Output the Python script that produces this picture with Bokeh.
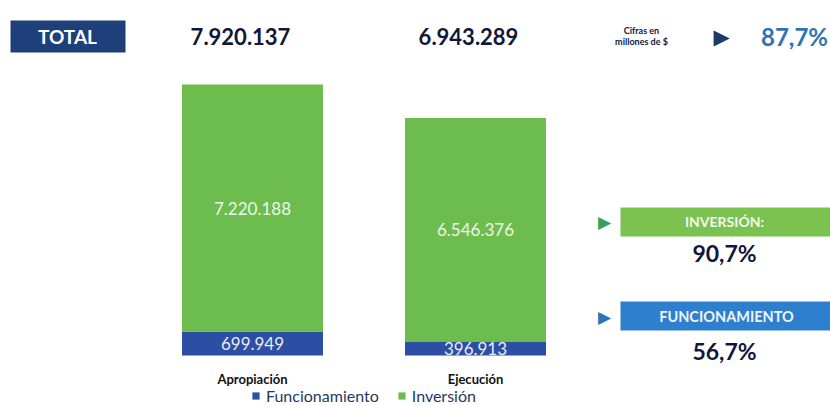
from bokeh.plotting import figure
from bokeh.models import ColumnDataSource, Range1d, Label, BoxAnnotation, Legend, LegendItem
from bokeh.core.properties import value
from bokeh.embed import file_html
from bokeh.resources import INLINE

categories = ["Apropiación", "Ejecución"]
funcionamiento = [699949, 396913]
inversion = [7220188, 6546376]
series = ["Funcionamiento", "Inversión"]

GREEN = "#6cbd4e"
BLUE = "#2d4fa3"
FONT = "Lato"

def fmt(v):
    return f"{v:,}".replace(",", ".")

def pct(a, b):
    return f"{a / b * 100:.1f}".replace(".", ",") + "%"

totals = [f + i for f, i in zip(funcionamiento, inversion)]
xs = list(range(len(categories)))

src = ColumnDataSource(dict(x=xs, cat=categories, Funcionamiento=funcionamiento, Inversión=inversion,
                            f_mid=[f / 2 for f in funcionamiento],
                            i_mid=[f + i / 2 for f, i in zip(funcionamiento, inversion)],
                            f_lab=[fmt(v) for v in funcionamiento],
                            i_lab=[fmt(v) for v in inversion]))

W, H = 830, 406
BASE = 51          # baseline height above bottom, px
X0, STEP = 252, 223
px_per_unit = 271 / totals[0]
p = figure(width=W, height=H, output_backend="svg", toolbar_location=None,
           x_range=Range1d(-X0 / STEP, (W - X0) / STEP),
           y_range=Range1d(-BASE / px_per_unit, (H - BASE) / px_per_unit),
           min_border=0, outline_line_color=None)
p.axis.visible = False
p.grid.visible = False

rs = p.vbar_stack(series, x="x", width=141 / STEP, color=[BLUE, GREEN], source=src, line_color=None)

p.text(x="x", y="i_mid", text="i_lab", source=src, text_align="center", text_baseline="middle",
       text_color="#eef5ea", text_font_size="17px", text_font=value(FONT))
p.text(x="x", y="f_mid", text="f_lab", source=src, text_align="center", text_baseline="middle",
       text_color="#e8ecf6", text_font_size="17px", text_font=value(FONT))
p.text(x="x", y=-23 / px_per_unit, text="cat", source=src, text_align="center", text_baseline="middle",
       text_color="#111111", text_font_size="13px", text_font_style="bold", text_font=value(FONT))

def sy(ref_y):
    return H - ref_y

def lab(text, x, y, size, color, bold=True, font=FONT):
    p.add_layout(Label(x=x, y=sy(y), x_units="screen", y_units="screen", text=text,
                       text_align="center", text_baseline="middle", text_font_size=size,
                       text_color=color, text_font_style="bold" if bold else "normal", text_font=font))

def box(l, r, t, b, color):
    p.add_layout(BoxAnnotation(left=l, right=r, bottom=sy(b), top=sy(t),
                               left_units="screen", right_units="screen", bottom_units="screen", top_units="screen",
                               fill_color=color, fill_alpha=1, line_color=None))

# header
box(10, 125, 20, 52, "#1f3f7a")
lab("TOTAL", 67, 36, "19px", "white")
lab(fmt(totals[0]), 240, 36, "22px", "#12163a")
lab(fmt(totals[1]), 468, 36, "22px", "#12163a")
lab("Cifras en", 641, 30, "9px", "#12163a")
lab("millones de $", 641, 41, "9px", "#12163a")
lab("▶", 721, 36, "21px", "#1f3864", bold=False, font="DejaVu Sans")
lab(pct(totals[1], totals[0]), 794, 36, "24px", "#2e74b5")

# right panels
box(620, 830, 207, 236, "#7cc250")
lab("▶", 604, 221, "17px", "#33a25a", bold=False, font="DejaVu Sans")
lab("INVERSIÓN:", 724, 221, "14px", "#f2f7ec")
lab(pct(inversion[1], inversion[0]), 724, 252, "23px", "#12163a")

box(620, 830, 301, 330, "#2f7fcf")
lab("▶", 604, 316, "17px", "#2e75b6", bold=False, font="DejaVu Sans")
lab("FUNCIONAMIENTO", 726, 316, "14.5px", "#eef4fb")
lab(pct(funcionamiento[1], funcionamiento[0]), 724, 350, "23px", "#12163a")

legend = Legend(items=[LegendItem(label=s, renderers=[r]) for s, r in zip(series, rs)],
                orientation="horizontal", location=(251, 1), border_line_color=None,
                background_fill_alpha=0, label_text_font_size="16px", label_text_font=FONT,
                label_text_color="#1f3864", glyph_width=9, glyph_height=9, spacing=18,
                label_standoff=6, padding=2, margin=0, label_height=16)
p.add_layout(legend)

open("out.html", "w").write(file_html(p, INLINE))
